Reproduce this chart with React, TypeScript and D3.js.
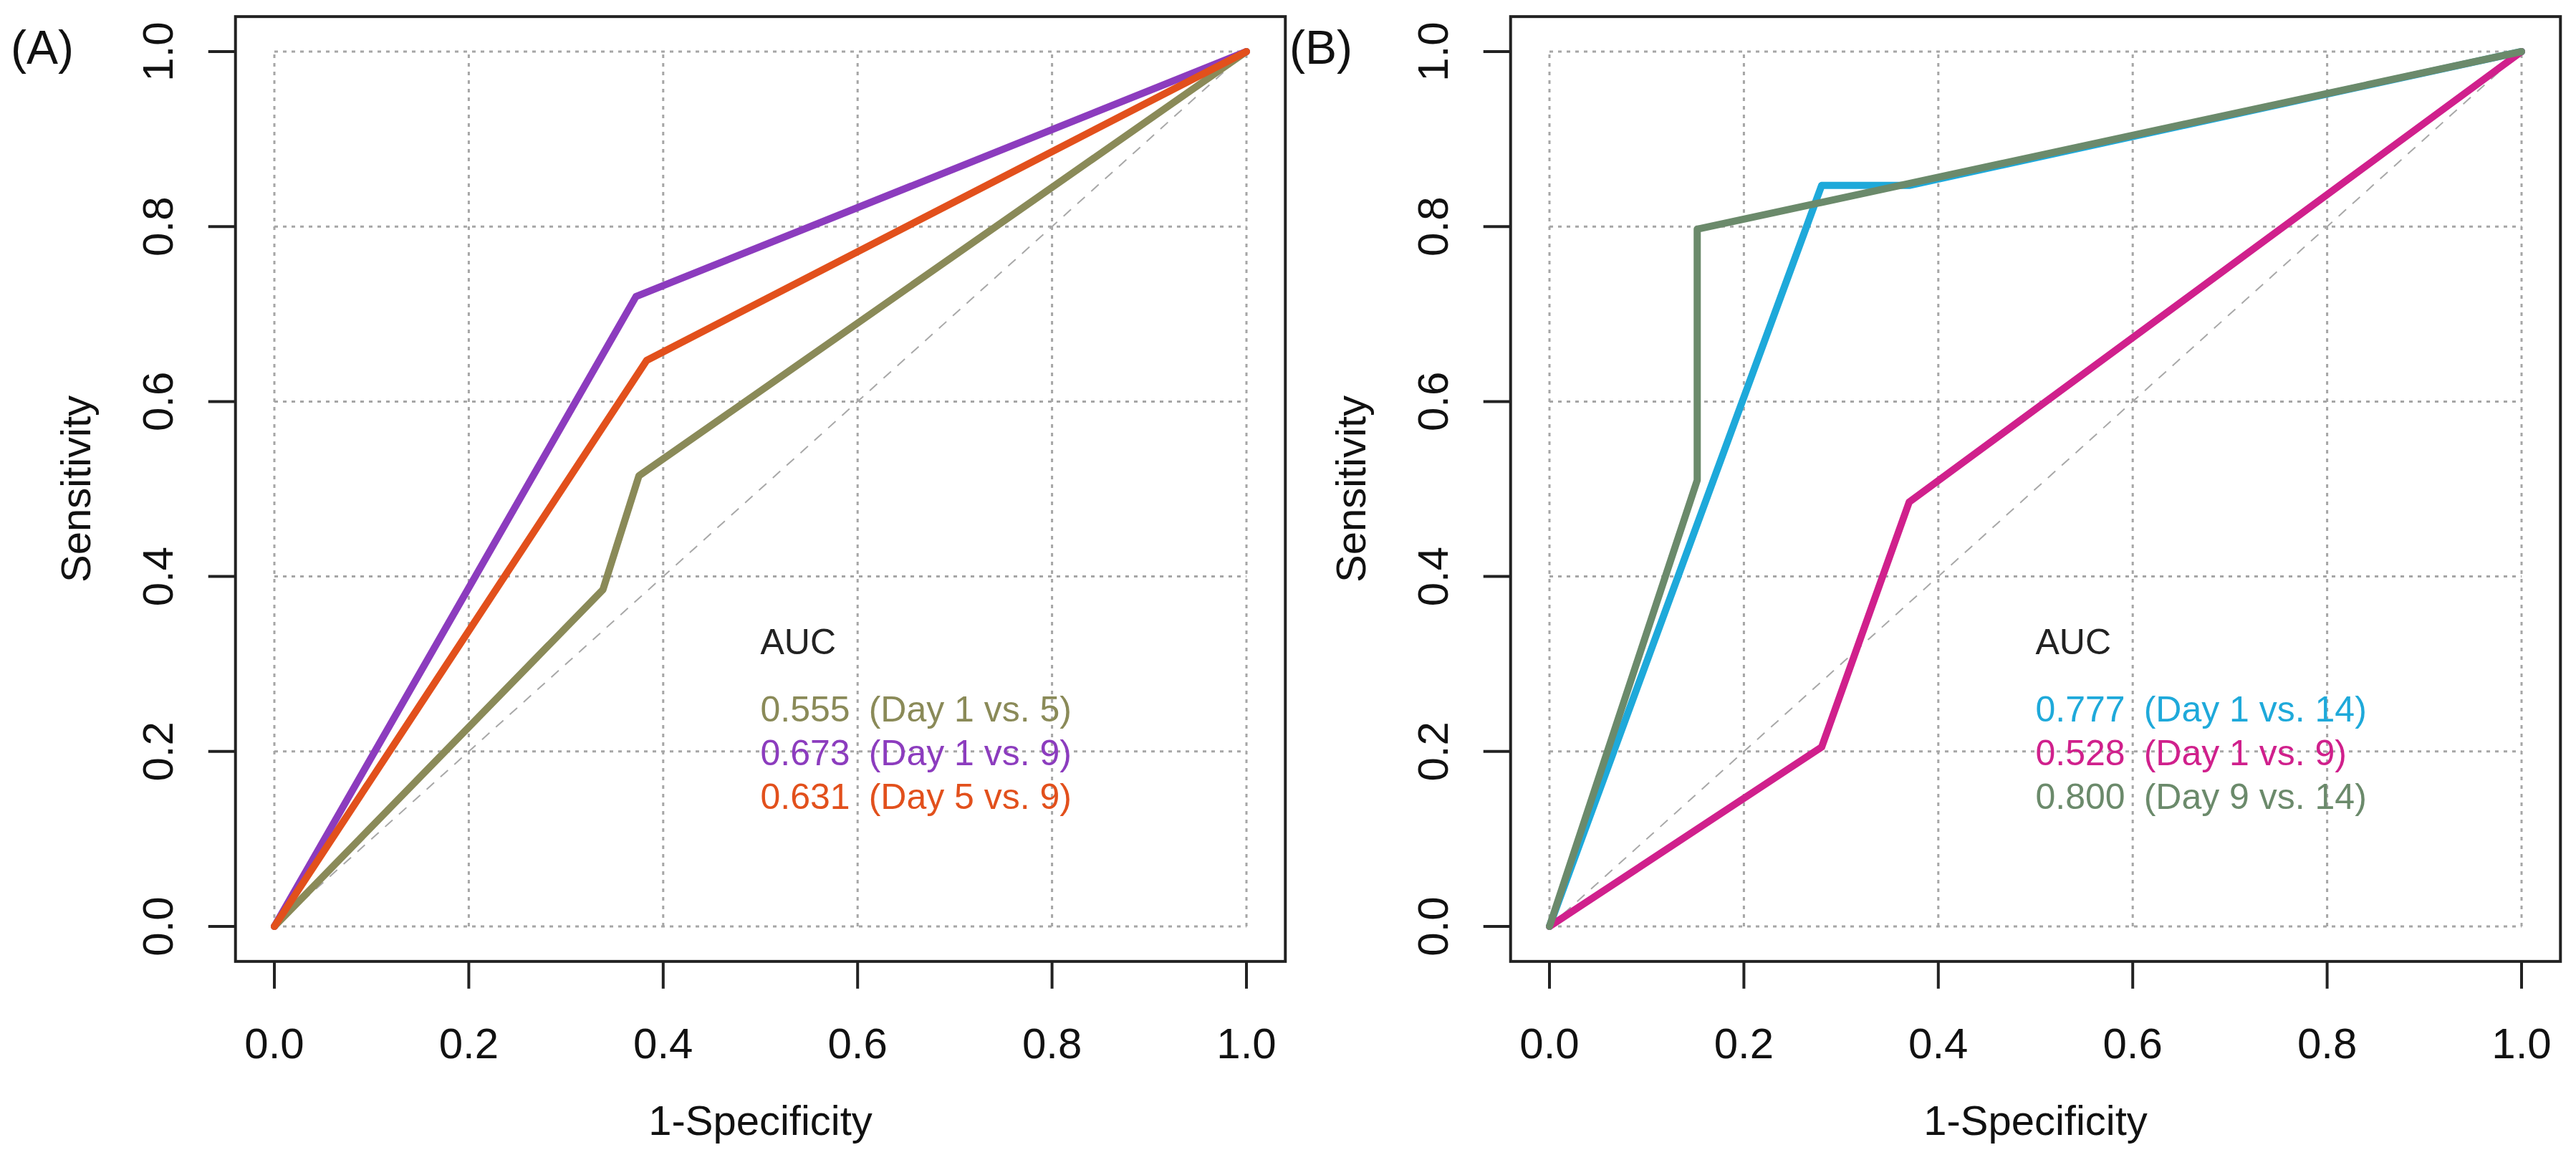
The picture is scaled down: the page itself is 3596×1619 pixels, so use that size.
import React from 'react';
import * as d3 from 'd3';

// ROC points [1-specificity, sensitivity]
const rocDay1vs5 = [[0, 0], [0.338, 0.385], [0.375, 0.515], [1, 1]];
const rocDay1vs9A = [[0, 0], [0.372, 0.72], [1, 1]];
const rocDay5vs9 = [[0, 0], [0.383, 0.647], [1, 1]];

const rocDay1vs14 = [[0, 0], [0.28, 0.847], [0.37, 0.847], [1, 1]];
const rocDay1vs9B = [[0, 0], [0.28, 0.205], [0.37, 0.485], [1, 1]];
const rocDay9vs14 = [[0, 0], [0.152, 0.51], [0.152, 0.797], [1, 1]];

const aucA = ['0.555', '0.673', '0.631'];
const labelsA = ['(Day 1 vs. 5)', '(Day 1 vs. 9)', '(Day 5 vs. 9)'];
const aucB = ['0.777', '0.528', '0.800'];
const labelsB = ['(Day 1 vs. 14)', '(Day 1 vs. 9)', '(Day 9 vs. 14)'];

const ticks = [0, 0.2, 0.4, 0.6, 0.8, 1.0];

const colorsA = ['#8a8a58', '#8c3cbe', '#e2501c'];
const colorsB = ['#1ea9da', '#d0208c', '#6b8a6b'];

const FONT = '"Liberation Sans", Arial, sans-serif';

interface PanelProps {
    left: number;        // pixel position of x = 0
    tag: string;
    tagX: number;
    curves: number[][][];
    colors: string[];
    aucs: string[];
    labels: string[];
}

const Panel: React.FC<PanelProps> = ({ left, tag, tagX, curves, colors, aucs, labels }) => {
    const x = d3.scaleLinear().domain([0, 1]).range([left, left + 1357]);
    const y = d3.scaleLinear().domain([0, 1]).range([1293, 72]);

    const line = d3.line<number[]>()
        .x(d => x(d[0]))
        .y(d => y(d[1]));

    const boxL = x(-0.04), boxR = x(1.04), boxT = y(1.04), boxB = y(-0.04);
    const legendX = x(0.5);

    return (
        <g fontFamily={FONT}>
            <text x={tagX} y={89} fontSize={66} fill="#111">{tag}</text>

            {/* grid */}
            {ticks.map(t => (
                <g key={`g${t}`} stroke="#a6a6a6" strokeWidth={3} strokeDasharray="5 7">
                    <line x1={x(t)} x2={x(t)} y1={y(0)} y2={y(1)} />
                    <line x1={x(0)} x2={x(1)} y1={y(t)} y2={y(t)} />
                </g>
            ))}

            {/* reference diagonal */}
            <line x1={x(0)} y1={y(0)} x2={x(1)} y2={y(1)}
                stroke="#a8a8a8" strokeWidth={2} strokeDasharray="14 12" />

            {curves.map((c, i) => (
                <path key={i} d={line(c) || ''} fill="none" stroke={colors[i]}
                    strokeWidth={10} strokeLinejoin="round" strokeLinecap="round" />
            ))}

            {/* legend */}
            <text x={legendX} y={895} dy="0.35em" fontSize={50} fill="#222">AUC</text>
            {aucs.map((a, i) => (
                <text key={a + i} x={legendX} y={989 + i * 61} dy="0.35em" fontSize={50} fill={colors[i]}>
                    {a}
                    <tspan dx={26}>{labels[i]}</tspan>
                </text>
            ))}

            {/* frame */}
            <rect x={boxL} y={boxT} width={boxR - boxL} height={boxB - boxT}
                fill="none" stroke="#222" strokeWidth={4} />

            {/* x axis */}
            {ticks.map(t => (
                <g key={`x${t}`}>
                    <line x1={x(t)} x2={x(t)} y1={boxB} y2={boxB + 38} stroke="#222" strokeWidth={4} />
                    <text x={x(t)} y={1477} fontSize={60} textAnchor="middle" fill="#111">{t.toFixed(1)}</text>
                </g>
            ))}
            <text x={(boxL + boxR) / 2} y={1584} fontSize={58} textAnchor="middle" fill="#111">1-Specificity</text>

            {/* y axis */}
            {ticks.map(t => (
                <g key={`y${t}`}>
                    <line x1={boxL - 38} x2={boxL} y1={y(t)} y2={y(t)} stroke="#222" strokeWidth={4} />
                    <text transform={`translate(${boxL - 88},${y(t)}) rotate(-90)`}
                        fontSize={60} textAnchor="middle" fill="#111">{t.toFixed(1)}</text>
                </g>
            ))}
            <text transform={`translate(${boxL - 203},${(boxT + boxB) / 2}) rotate(-90)`}
                fontSize={58} textAnchor="middle" fill="#111">Sensitivity</text>
        </g>
    );
};

export default function App() {
    return (
        <svg width={3596} height={1619}
            style={{ position: 'absolute', left: 0, top: 0, background: '#fff' }}>
            <rect width={3596} height={1619} fill="#fff" />
            <Panel left={383} tag="(A)" tagX={15} curves={[rocDay1vs5, rocDay1vs9A, rocDay5vs9]}
                colors={colorsA} aucs={aucA} labels={labelsA} />
            <Panel left={2163} tag="(B)" tagX={1800} curves={[rocDay1vs14, rocDay1vs9B, rocDay9vs14]}
                colors={colorsB} aucs={aucB} labels={labelsB} />
        </svg>
    );
}
